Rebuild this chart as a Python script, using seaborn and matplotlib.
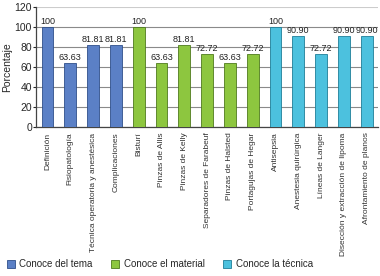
import numpy as np
import pandas as pd
import seaborn as sns
import matplotlib.pyplot as plt
from matplotlib.patches import Patch

sns.set_style('white')
plt.rcParams['font.family'] = ['Liberation Sans Narrow', 'Liberation Sans', 'DejaVu Sans']

# datos
categorias = ['Definición', 'Fisiopatología', 'Técnica operatoria y anestésica', 'Complicaciones',
              'Bisturí', 'Pinzas de Allis', 'Pinzas de Kelly', 'Separadores de Farabeuf',
              'Pinzas de Halsted', 'Portagujas de Hegar',
              'Antisepsia', 'Anestesia quirúrgica', 'Líneas de Langer',
              'Disección y extracción de lipoma', 'Afrontamiento de planos']
valores = [100, 63.63, 81.81, 81.81,
           100, 63.63, 81.81, 72.72, 63.63, 72.72,
           100, 90.90, 72.72, 90.90, 90.90]
grupos = ['Conoce del tema'] * 4 + ['Conoce el material'] * 6 + ['Conoce la técnica'] * 5
etiquetas = ['100', '63.63', '81.81', '81.81',
             '100', '63.63', '81.81', '72.72', '63.63', '72.72',
             '100', '90.90', '72.72', '90.90', '90.90']

colores = {'Conoce del tema': '#5b80c6', 'Conoce el material': '#8dc63f', 'Conoce la técnica': '#4cc1de'}
bordes = {'Conoce del tema': '#2f4f8a', 'Conoce el material': '#4f7a1e', 'Conoce la técnica': '#1e7f99'}

df = pd.DataFrame({'Categoria': categorias, 'Valor': valores, 'Grupo': grupos})

fig = plt.figure(figsize=(3.8, 2.76), dpi=100)
ax = fig.add_axes([0.095, 0.54, 0.9, 0.435])

sns.barplot(data=df, x='Categoria', y='Valor', hue='Grupo', palette=colores, saturation=1,
            dodge=False, width=0.52, legend=False, ax=ax, zorder=3)
for bar, g in zip(ax.patches, grupos):
    bar.set_edgecolor(bordes[g])
    bar.set_linewidth(0.6)

# etiquetas de valores
for i, (v, t) in enumerate(zip(valores, etiquetas)):
    ax.text(i, v + 1, t, ha='center', va='bottom', fontsize=6.5, color='#222222')

ax.set_ylim(0, 120)
ax.set_yticks(range(0, 121, 20))
ax.set_xlim(-0.5, len(categorias) - 0.5)
ax.yaxis.grid(True, color='#8a8a8a', linewidth=0.8, zorder=0)
ax.get_ygridlines()[-1].set_color('#cccccc')
ax.set_axisbelow(True)
ax.set_xlabel('')
ax.set_ylabel('Porcentaje', fontsize=7.5, labelpad=2)
ax.tick_params(axis='y', labelsize=7.5, length=2, pad=1, left=True)
ax.tick_params(axis='x', labelsize=6, length=0, pad=4)
ax.set_xticks(range(len(categorias)))
ax.set_xticklabels(categorias, rotation=90, va='top', color='#333333')
for s in ['top', 'right']:
    ax.spines[s].set_visible(False)
for s in ['left', 'bottom']:
    ax.spines[s].set_color('#444444')
    ax.spines[s].set_linewidth(0.9)

handles = [Patch(facecolor=colores[g], edgecolor=bordes[g], linewidth=0.6, label=g)
           for g in ['Conoce del tema', 'Conoce el material', 'Conoce la técnica']]
fig.legend(handles=handles, loc='lower left', bbox_to_anchor=(0.0, 0.0), ncol=3,
           frameon=False, fontsize=7, handlelength=0.8, handleheight=0.8,
           handletextpad=0.5, columnspacing=1.9, borderaxespad=0.3)

fig.savefig('out.png', dpi=100)
